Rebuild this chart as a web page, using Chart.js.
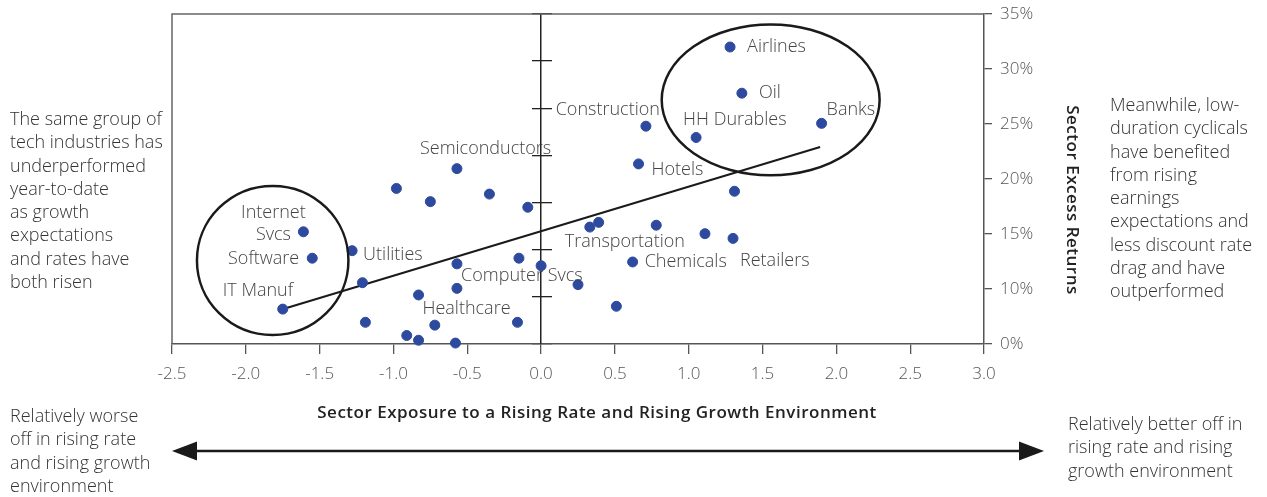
<!DOCTYPE html>
<html>
<head>
<meta charset="utf-8">
<script src="https://cdn.jsdelivr.net/npm/chart.js@4.4.1/dist/chart.umd.min.js"></script>
<style>
  html, body { margin: 0; padding: 0; background: #fff; }
  #wrap { position: relative; width: 1267px; height: 497px; overflow: hidden; font-family: 'Open Sans', Lato, sans-serif; }
  #wrap canvas { position: absolute; left: 0; top: 0; }
  .note { position: absolute; font-size: 18px; line-height: 23.3px; color: #333; font-weight: 300; white-space: nowrap; }
  .axisTitle { position: absolute; font-size: 17px; line-height: 20px; font-weight: 600; letter-spacing: 0.5px; color: #222; text-align: center; white-space: nowrap; }
  svg { position: absolute; left: 0; top: 0; }
</style>
</head>
<body>
<div id="wrap">
  <canvas id="sectorChart" width="1267" height="497"></canvas>
  <div class="note" style="left:10px; top:107px;">The same group of<br>tech industries has<br>underperformed<br>year-to-date<br>as growth<br>expectations<br>and rates have<br>both risen</div>
  <div class="note" style="left:1110px; top:93px;">Meanwhile, low-<br>duration cyclicals<br>have benefited<br>from rising<br>earnings<br>expectations and<br>less discount rate<br>drag and have<br>outperformed</div>
  <div class="note" style="left:10px; top:404px;">Relatively worse<br>off in rising rate<br>and rising growth<br>environment</div>
  <div class="note" style="left:1068px; top:412px;">Relatively better off in<br>rising rate and rising<br>growth environment</div>
  <div class="axisTitle" style="left:197px; top:402px; width:800px;">Sector Exposure to a Rising Rate and Rising Growth Environment</div>
  <div class="axisTitle" style="left:923px; top:190px; width:300px; transform: rotate(90deg);">Sector Excess Returns</div>
  <svg width="1267" height="497">
    <line x1="192" y1="451" x2="1024" y2="451" stroke="#1a1a1a" stroke-width="2.5"/>
    <polygon points="172,451 197,441.5 197,460.5" fill="#1a1a1a"/>
    <polygon points="1044,451 1019,441.5 1019,460.5" fill="#1a1a1a"/>
  </svg>
</div>
<script>
// sectors (blank = unlabelled dot)
const sectors = ['Airlines', 'Oil', 'Banks', 'Construction', 'HH Durables', 'Hotels', 'Semiconductors',
  '', '', '', '', '', '', 'Transportation', '', '', 'Retailers', 'Chemicals', 'Internet\nSvcs', 'Utilities',
  'Software', '', '', 'Computer Svcs', '', '', '', '', '', 'IT Manuf', '', '', 'Healthcare', '', '', ''];
// exposure to rising rate / rising growth
const exposure = [1.28, 1.36, 1.90, 0.71, 1.05, 0.66, -0.57,
  1.31, -0.98, -0.75, -0.35, -0.09, 0.39, 0.33, 0.78, 1.11, 1.30, 0.62, -1.61, -1.28,
  -1.55, -0.57, -0.15, 0.00, -1.21, -0.57, -0.83, 0.25, 0.51, -1.75, -1.19, -0.72, -0.16, -0.91, -0.83, -0.58];
// sector excess returns, %
const excessReturn = [31.5, 26.6, 23.4, 23.1, 21.9, 19.1, 18.6,
  16.2, 16.5, 15.1, 15.9, 14.5, 12.9, 12.4, 12.6, 11.7, 11.2, 8.7, 11.9, 9.9,
  9.1, 8.5, 9.1, 8.3, 6.5, 5.9, 5.2, 6.3, 4.0, 3.7, 2.3, 2.0, 2.3, 0.9, 0.4, 0.1];

// trend line end points
const trendX = [-1.73, 1.89];
const trendY = [3.8, 20.9];

// circled groups: centre x, centre y, radius x, radius y (data units)
const groupCenterX = [-1.818, 1.555];
const groupCenterY = [8.86, 25.89];
const groupRadiusX = [0.513, 0.738];
const groupRadiusY = [7.91, 8.0];

// right axis labels (the 5% step is skipped in the original)
const rightTickLabels = ['0%', '10%', '15%', '20%', '25%', '30%', '35%'];

// where each label sits relative to its dot (px)
const labelPlacement = {
  'Airlines': { dx: 17, dy: 0, align: 'left' },
  'Oil': { dx: 17, dy: 0, align: 'left' },
  'Banks': { dx: 5, dy: -13, align: 'left' },
  'Construction': { dx: 14, dy: -16, align: 'right' },
  'HH Durables': { dx: -13, dy: -18, align: 'left' },
  'Hotels': { dx: 13, dy: 6, align: 'left' },
  'Semiconductors': { dx: -37, dy: -20, align: 'left' },
  'Transportation': { dx: -25, dy: 15, align: 'left' },
  'Retailers': { dx: 7, dy: 22, align: 'left' },
  'Chemicals': { dx: 12, dy: 0, align: 'left' },
  'Internet\nSvcs': { dx: -30, dy: -19, align: 'center' },
  'Utilities': { dx: 11, dy: 4, align: 'left' },
  'Software': { dx: -13, dy: 1, align: 'right' },
  'Computer Svcs': { dx: -80, dy: 10, align: 'left' },
  'IT Manuf': { dx: -60, dy: -18, align: 'left' },
  'Healthcare': { dx: -95, dy: -13, align: 'left' }
};

const labelFont = '300 18px "Open Sans", Lato, sans-serif';

const framePlugin = {
  id: 'frame',
  beforeDatasetsDraw(chart) {
    const { ctx, chartArea } = chart;
    ctx.save();
    ctx.strokeStyle = '#666';
    ctx.lineWidth = 1.5;
    ctx.beginPath();
    ctx.moveTo(chartArea.left, chartArea.bottom);
    ctx.lineTo(chartArea.left, chartArea.top);
    ctx.lineTo(chartArea.right, chartArea.top);
    ctx.stroke();
    ctx.restore();
  }
};

const notesPlugin = {
  id: 'notes',
  afterDatasetsDraw(chart) {
    const { ctx } = chart;
    const xs = chart.scales.x, ys = chart.scales.y;
    ctx.save();
    // circles
    ctx.strokeStyle = '#1a1a1a';
    ctx.lineWidth = 2.5;
    groupCenterX.forEach((cx, i) => {
      const px = xs.getPixelForValue(cx);
      const py = ys.getPixelForValue(groupCenterY[i]);
      const rx = Math.abs(xs.getPixelForValue(cx + groupRadiusX[i]) - px);
      const ry = Math.abs(ys.getPixelForValue(groupCenterY[i] + groupRadiusY[i]) - py);
      ctx.beginPath();
      ctx.ellipse(px, py, rx, ry, 0, 0, Math.PI * 2);
      ctx.stroke();
    });
    // sector labels
    ctx.font = labelFont;
    ctx.fillStyle = '#444';
    ctx.textBaseline = 'middle';
    sectors.forEach((name, i) => {
      if (!name) return;
      const p = labelPlacement[name];
      const px = xs.getPixelForValue(exposure[i]) + p.dx;
      const py = ys.getPixelForValue(excessReturn[i]) + p.dy;
      ctx.textAlign = p.align;
      name.split('\n').forEach((line, k) => ctx.fillText(line, px, py + k * 22));
    });
    ctx.restore();
  }
};

const tickFont = { family: '"Open Sans", Lato, sans-serif', size: 17, weight: '300' };

new Chart(document.getElementById('sectorChart'), {
  type: 'scatter',
  data: {
    datasets: [
      {
        type: 'line',
        data: trendX.map((x, i) => ({ x: x, y: trendY[i] })),
        borderColor: '#1a1a1a',
        borderWidth: 2,
        pointRadius: 0,
        fill: false,
        clip: false,
        order: 1
      },
      {
        data: exposure.map((x, i) => ({ x: x, y: excessReturn[i] })),
        backgroundColor: '#2e4a9e',
        borderColor: '#2e4a9e',
        pointRadius: 5,
        pointHoverRadius: 5,
        clip: false,
        order: 0
      }
    ]
  },
  options: {
    responsive: false,
    animation: false,
    layout: { padding: { left: 172, top: 14, right: 0, bottom: 0 } },
    plugins: { legend: { display: false }, tooltip: { enabled: false } },
    scales: {
      x: {
        type: 'linear',
        min: -2.5,
        max: 3,
        afterFit: (s) => { s.height = 153; },
        ticks: {
          stepSize: 0.5,
          callback: (v) => v.toFixed(1),
          color: '#555',
          font: tickFont,
          padding: 10,
          maxRotation: 0
        },
        grid: { display: true, drawOnChartArea: false, drawTicks: true, tickLength: 10, color: '#555', lineWidth: 1.3 },
        border: { color: '#555', width: 1.5 }
      },
      y: {
        type: 'linear',
        position: { x: 0 },
        min: 0,
        max: 35,
        ticks: { stepSize: 5, display: false },
        grid: { display: true, drawOnChartArea: false, drawTicks: true, tickLength: 8, color: '#222', lineWidth: 1.3 },
        border: { color: '#222', width: 1.5 }
      },
      yInner: {
        type: 'linear',
        position: { x: 0 },
        min: 0,
        max: 35,
        ticks: { stepSize: 5, display: false },
        grid: { display: true, drawOnChartArea: false, drawTicks: true, tickLength: -11, color: '#222', lineWidth: 1.3 },
        border: { display: false }
      },
      y2: {
        type: 'linear',
        position: 'right',
        min: 0,
        max: 6,
        afterFit: (s) => { s.width = 283; s.paddingTop = 0; s.paddingBottom = 0; },
        ticks: {
          stepSize: 1,
          callback: (v) => rightTickLabels[v],
          color: '#555',
          font: tickFont,
          padding: 8
        },
        grid: { display: true, drawOnChartArea: false, drawTicks: true, tickLength: 8, color: '#555', lineWidth: 1.3 },
        border: { color: '#555', width: 1.5 }
      }
    }
  },
  plugins: [framePlugin, notesPlugin]
});
</script>
</body>
</html>
